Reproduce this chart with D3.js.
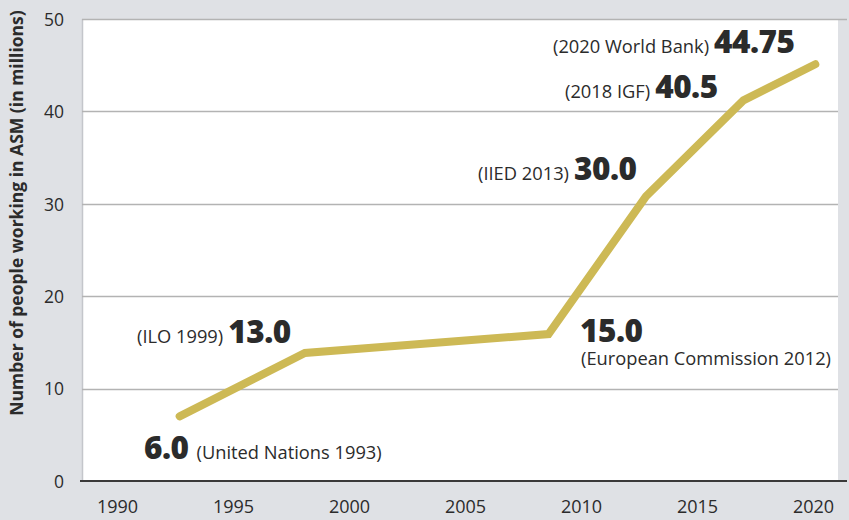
<!DOCTYPE html>
<html><head><meta charset="utf-8">
<script src="https://cdn.jsdelivr.net/npm/d3@7"></script>
<style>
html,body{margin:0;padding:0;background:#dfe1e5;}
svg{display:block;}
text{font-family:"Open Sans","Lato",sans-serif;fill:#2b2b2b;}
</style></head>
<body>
<script>
const years = [1992.7, 1998.1, 2008.6, 2012.8, 2017.0, 2020.1];
const values = [7.0, 13.85, 15.9, 30.8, 41.2, 45.1];
const valueLabels = ["6.0", "13.0", "15.0", "30.0", "40.5", "44.75"];
const sourceLabels = ["(United Nations 1993)", "(ILO 1999)", "(European Commission 2012)", "(IIED 2013)", "(2018 IGF)", "(2020 World Bank)"];
const xTicks = [1990, 1995, 2000, 2005, 2010, 2015, 2020];
const yTicks = [0, 10, 20, 30, 40, 50];

const W = 849, H = 520;
const FONT = "'Open Sans', Lato, sans-serif";
const svg = d3.select("body").append("svg").attr("width", W).attr("height", H);
svg.append("rect").attr("width", W).attr("height", H).attr("fill", "#dfe1e5");

const x = d3.scaleLinear().domain([1990, 2020]).range([117, 813]);
const y = d3.scaleLinear().domain([0, 50]).range([481, 19]);

// plot area
svg.append("rect").attr("x", 82).attr("y", 19).attr("width", 838 - 82).attr("height", 481 - 19).attr("fill", "#ffffff");
// left border
svg.append("line").attr("x1", 82.5).attr("x2", 82.5).attr("y1", 19).attr("y2", 481).attr("stroke", "#c4c6cb").attr("stroke-width", 1.5);

// gridlines
svg.append("g").selectAll("line").data(yTicks.filter(d => d > 0)).join("line")
  .attr("x1", 82).attr("x2", d => d === 50 ? 847 : 838)
  .attr("y1", d => Math.round(y(d)) + 0.5).attr("y2", d => Math.round(y(d)) + 0.5)
  .attr("stroke", "#b3b3b3").attr("stroke-width", 1.3);

// y axis labels
const yAxis = d3.axisLeft(y).tickValues(yTicks).tickSize(0).tickPadding(0).tickFormat(d3.format("d"));
const gy = svg.append("g").attr("transform", "translate(64,0)").call(yAxis);
gy.select(".domain").remove();
gy.selectAll("text").attr("font-size", 17.5).attr("fill", "#2b2b2b").style("font-family", FONT).attr("dy", "0.36em");

// x axis
const xAxis = d3.axisBottom(x).tickValues(xTicks).tickSize(0).tickPadding(0).tickFormat(d3.format("d"));
const gx = svg.append("g").attr("transform", "translate(0,481)").call(xAxis);
gx.select(".domain").remove();
gx.selectAll("text").attr("font-size", 18).attr("fill", "#2b2b2b").style("font-family", FONT).attr("y", 32).attr("dy", 0);
svg.append("line").attr("x1", 80).attr("x2", 847).attr("y1", 481).attr("y2", 481).attr("stroke", "#3a3a3a").attr("stroke-width", 2);

// y title
svg.append("text").attr("transform", "translate(23,213) rotate(-90)").attr("text-anchor", "middle")
  .attr("font-size", 17.5).attr("font-weight", 700).text("Number of people working in ASM (in millions)");

// line
const pts = years.map((yr, i) => [yr, values[i]]);
svg.append("path").datum(pts)
  .attr("d", d3.line().x(d => x(d[0])).y(d => y(d[1])))
  .attr("fill", "none").attr("stroke", "#cdb955").attr("stroke-width", 8)
  .attr("stroke-linecap", "round").attr("stroke-linejoin", "miter");

// annotations
const numSize = 31.5, srcSize = 18.3;
function inline(xStart, baseline, first, second, firstBold, gap) {
  const t = svg.append("text").attr("x", xStart).attr("y", baseline);
  const parts = firstBold ? [[first, true], [second, false]] : [[first, false], [second, true]];
  parts.forEach(([s, b], i) => {
    const ts = t.append("tspan").text(s);
    if (b) ts.attr("font-size", numSize).attr("font-weight", 800).attr("letter-spacing", -0.5);
    else ts.attr("font-size", srcSize).attr("font-weight", 400);
    if (i === 1) ts.attr("dx", gap);
  });
}
inline(144, 459, valueLabels[0], sourceLabels[0], true, 8);
inline(137, 343, sourceLabels[1], valueLabels[1], false, 5);
inline(478, 180, sourceLabels[3], valueLabels[3], false, 5);
inline(565, 98, sourceLabels[4], valueLabels[4], false, 5);
inline(553, 53, sourceLabels[5], valueLabels[5], false, 5);
svg.append("text").attr("x", 580).attr("y", 342).attr("font-size", numSize).attr("font-weight", 800).attr("letter-spacing", -0.5).text(valueLabels[2]);
svg.append("text").attr("x", 581).attr("y", 365).attr("font-size", srcSize).text(sourceLabels[2]);
</script>
</body></html>
